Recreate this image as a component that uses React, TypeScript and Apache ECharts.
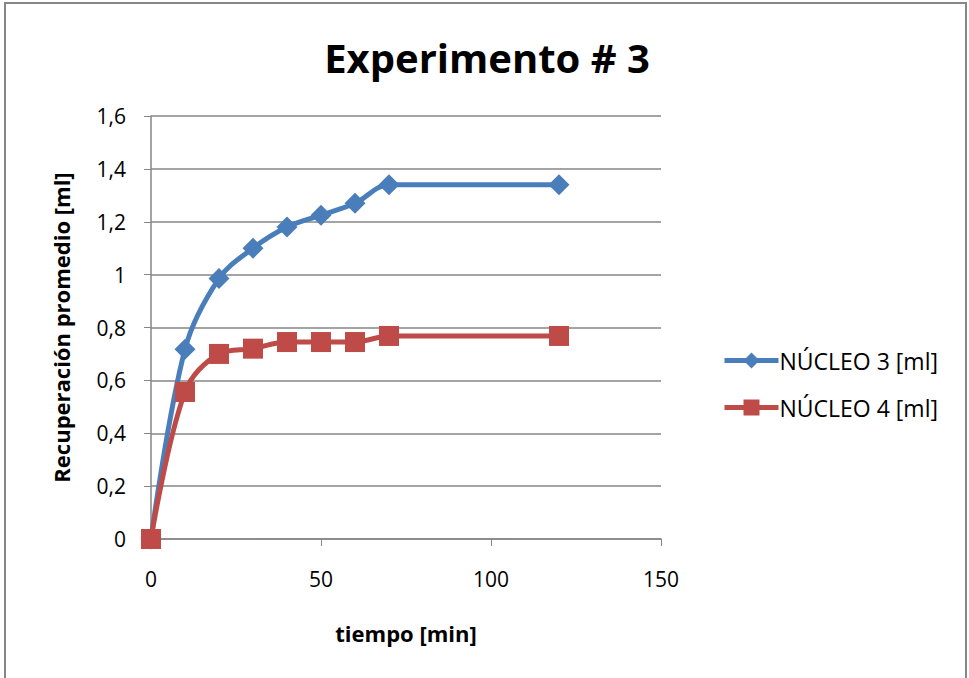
import React, { useEffect, useRef } from "react";
import * as echarts from "echarts";

const tiempo = [0, 10, 20, 30, 40, 50, 60, 70, 120];
const nucleo3 = [0, 0.718, 0.985, 1.1, 1.18, 1.225, 1.27, 1.34, 1.34];
const nucleo4 = [0, 0.556, 0.7, 0.72, 0.745, 0.745, 0.745, 0.768, 0.768];
const seriesNames = ["NÚCLEO 3 [ml]", "NÚCLEO 4 [ml]"];
const FONT = "'Open Sans', sans-serif";

export default function App() {
  const ref = useRef<HTMLDivElement>(null);
  useEffect(() => {
    const chart = echarts.init(ref.current!, null, { renderer: "svg" });
    const toPairs = (ys: number[]) => tiempo.map((x, i) => [x, ys[i]]);
    chart.setOption({
      animation: false,
      backgroundColor: "#fff",
      title: {
        text: "Experimento # 3",
        left: 482,
        textAlign: "center",
        top: 32,
        textStyle: { fontFamily: FONT, fontWeight: "bold", fontSize: 40, color: "#000" },
      },
      graphic: [
        {
          type: "rect",
          shape: { x: 5, y: 3, width: 961, height: 700 },
          style: { fill: "none", stroke: "#868686", lineWidth: 2 },
          silent: true,
        },
      ],
      grid: { left: 151, top: 116, width: 510, height: 423 },
      legend: {
        orient: "vertical",
        left: 717,
        top: 344,
        itemWidth: 54,
        itemHeight: 20,
        itemGap: 24,
        lineStyle: { width: 5 },
        textStyle: { fontFamily: FONT, fontSize: 23, color: "#000", padding: [0, 0, 0, -4] },
        data: seriesNames,
      },
      xAxis: {
        type: "value",
        min: 0,
        max: 150,
        interval: 50,
        name: "tiempo [min]",
        nameLocation: "middle",
        nameGap: 83,
        nameTextStyle: { fontFamily: FONT, fontWeight: "bold", fontSize: 22, color: "#000" },
        axisLine: { lineStyle: { color: "#868686", width: 1.5 } },
        axisTick: { show: true, length: 7, lineStyle: { color: "#868686" } },
        axisLabel: { fontFamily: FONT, fontSize: 21, color: "#000", margin: 29 },
        splitLine: { show: false },
      },
      yAxis: {
        type: "value",
        min: 0,
        max: 1.6,
        interval: 0.2,
        name: "Recuperación promedio [ml]",
        nameLocation: "middle",
        nameGap: 79,
        nameTextStyle: { fontFamily: FONT, fontWeight: "bold", fontSize: 22, color: "#000" },
        axisLine: { show: true, lineStyle: { color: "#868686", width: 1.5 } },
        axisTick: { show: true, length: 7, lineStyle: { color: "#868686" } },
        axisLabel: {
          fontFamily: FONT,
          fontSize: 21,
          color: "#000",
          margin: 25,
          formatter: (v: number) => String(Math.round(v * 10) / 10).replace(".", ","),
        },
        splitLine: { show: true, lineStyle: { color: "#868686", width: 1.5 } },
      },
      series: [
        {
          name: seriesNames[0],
          type: "line",
          smooth: 0.35,
          data: toPairs(nucleo3),
          symbol: "diamond",
          symbolSize: 21,
          lineStyle: { color: "#4A7EBB", width: 5 },
          itemStyle: { color: "#4A7EBB" },
        },
        {
          name: seriesNames[1],
          type: "line",
          smooth: 0.35,
          data: toPairs(nucleo4),
          symbol: "rect",
          symbolSize: 20,
          lineStyle: { color: "#BE4B48", width: 5 },
          itemStyle: { color: "#BE4B48" },
        },
      ],
    });
    return () => chart.dispose();
  }, []);
  return (
    <div
      ref={ref}
      style={{ position: "fixed", left: 0, top: 0, width: 969, height: 678 }}
    />
  );
}
